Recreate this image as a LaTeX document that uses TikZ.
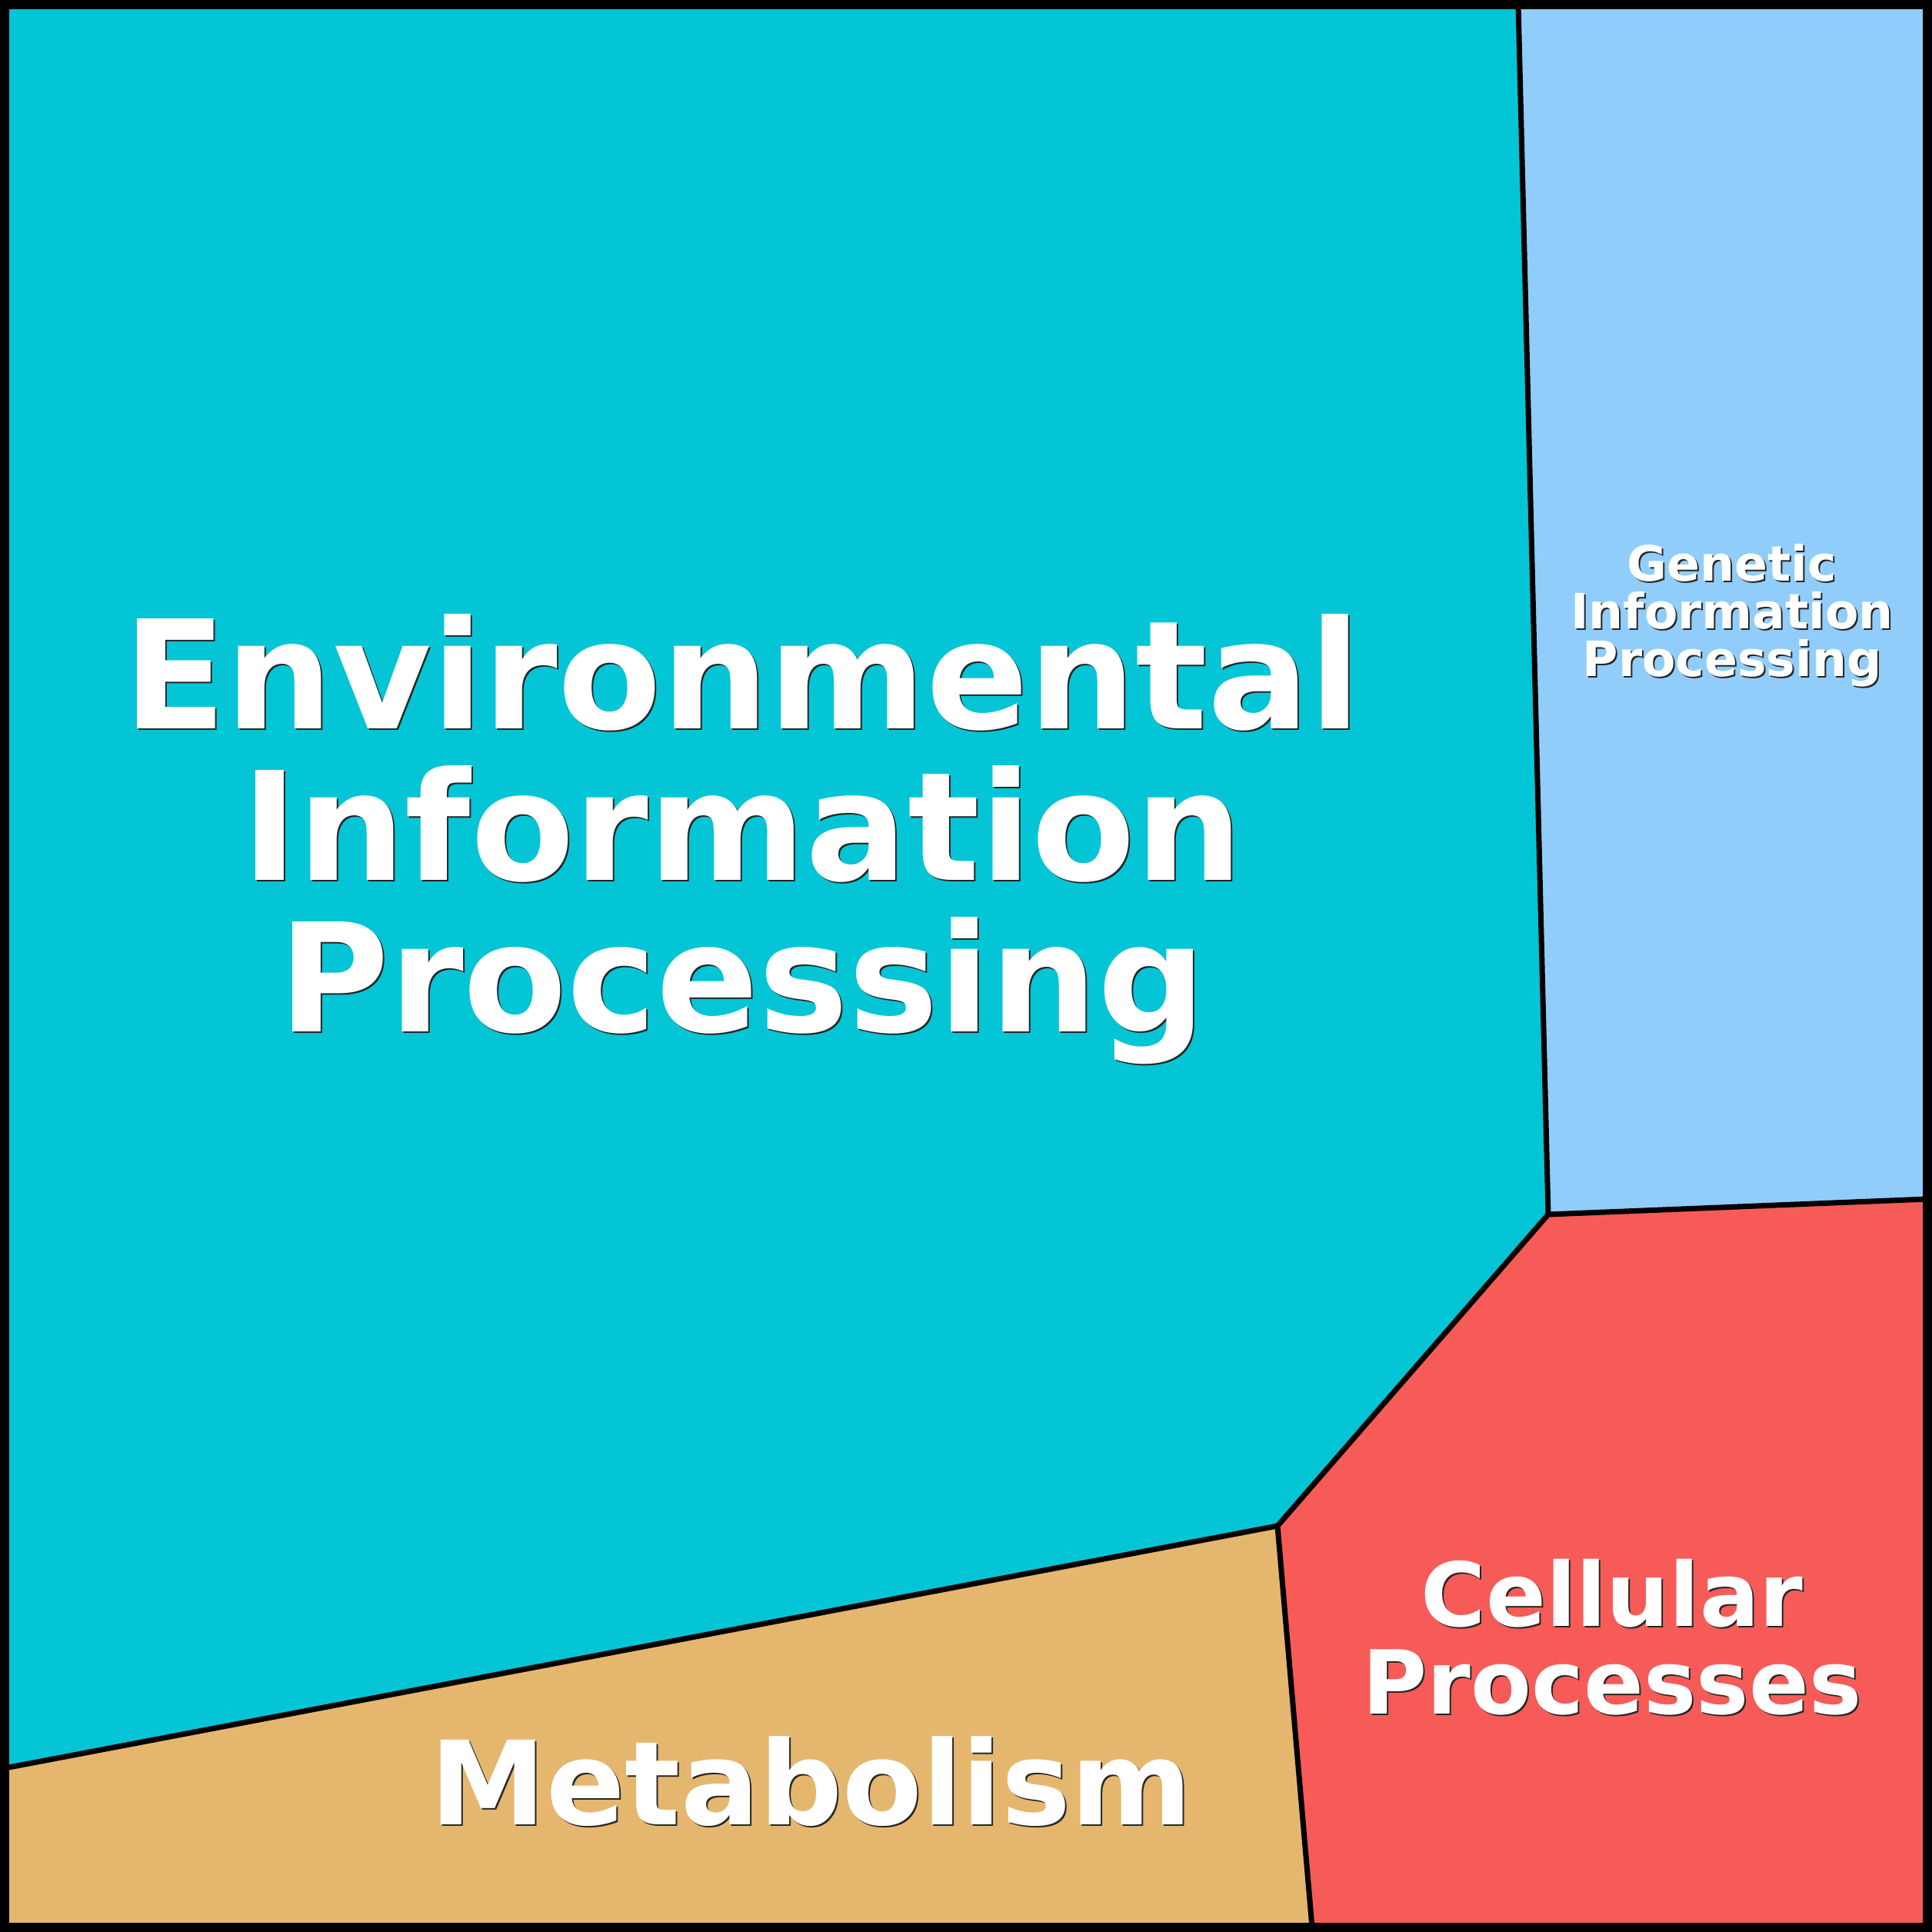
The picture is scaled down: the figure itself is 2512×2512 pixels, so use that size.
\documentclass[tikz,border=0pt]{standalone}
\usepackage{fontspec}
\setmainfont{DejaVu Sans}
\usepackage{xcolor}
\usepackage{tikz}
\usetikzlibrary{positioning}

\definecolor{envcol}{HTML}{04C5D5}
\definecolor{gencol}{HTML}{90CDFB}
\definecolor{celcol}{HTML}{F75B58}
\definecolor{metcol}{HTML}{E5B76E}

\tikzset{
    border/.style={draw=black, line width=0.7mm, line join=round},
    frame/.style={draw=black, line width=1.2mm},
    celltext/.style={text=white, inner sep=0pt, align=center, anchor=base},
    shadetext/.style={text=black!85, inner sep=0pt, align=center, anchor=base, xshift=0.2mm, yshift=-0.2mm}
}

\begin{document}
\begin{tikzpicture}[x=0.1mm, y=-0.1mm]
    \useasboundingbox (0,0) rectangle (2512,2512);
    % corners and joints of the cells
    \coordinate (tl) at (6,6);
    \coordinate (tr) at (2506,6);
    \coordinate (br) at (2506,2506);
    \coordinate (bl) at (6,2506);
    \coordinate (gtop) at (1974,6);
    \coordinate (gmid) at (2013,1579);
    \coordinate (gright) at (2506,1559);
    \coordinate (mid) at (1661,1984);
    \coordinate (mleft) at (6,2299);
    \coordinate (mbot) at (1706,2506);
    % cells
    \fill[envcol] (tl) -- (gtop) -- (gmid) -- (mid) -- (mleft) -- cycle;
    \fill[gencol] (gtop) -- (tr) -- (gright) -- (gmid) -- cycle;
    \fill[celcol] (gmid) -- (gright) -- (br) -- (mbot) -- (mid) -- cycle;
    \fill[metcol] (mleft) -- (mid) -- (mbot) -- (bl) -- cycle;
    \draw[border] (gtop) -- (gmid) -- (mid) -- (mleft);
    \draw[border] (gmid) -- (gright);
    \draw[border] (mid) -- (mbot);
    \draw[frame] (tl) rectangle (br);
    % labels (base = last line)
    \node (envshade) [shadetext, font=\fontsize{55.8pt}{56pt}\selectfont\bfseries] at (965,1341) {Environmental\\Information\\Processing};
    \node (env) [celltext, font=\fontsize{55.8pt}{56pt}\selectfont\bfseries] at (965,1341) {Environmental\\Information\\Processing};
    \node (genshade) [shadetext, font=\fontsize{18pt}{17.6pt}\selectfont\bfseries] at (2252,879) {Genetic\\Information\\Processing};
    \node (gen) [celltext, font=\fontsize{18pt}{17.6pt}\selectfont\bfseries] at (2252,879) {Genetic\\Information\\Processing};
    \node (celshade) [shadetext, font=\fontsize{32.7pt}{32.4pt}\selectfont\bfseries] at (2096,2228) {Cellular\\Processes};
    \node (cel) [celltext, font=\fontsize{32.7pt}{32.4pt}\selectfont\bfseries] at (2096,2228) {Cellular\\Processes};
    \node (metshade) [shadetext, font=\fontsize{43pt}{43pt}\selectfont\bfseries] at (1055,2372) {Metabolism};
    \node (met) [celltext, font=\fontsize{43pt}{43pt}\selectfont\bfseries] at (1055,2372) {Metabolism};
\end{tikzpicture}
\end{document}
